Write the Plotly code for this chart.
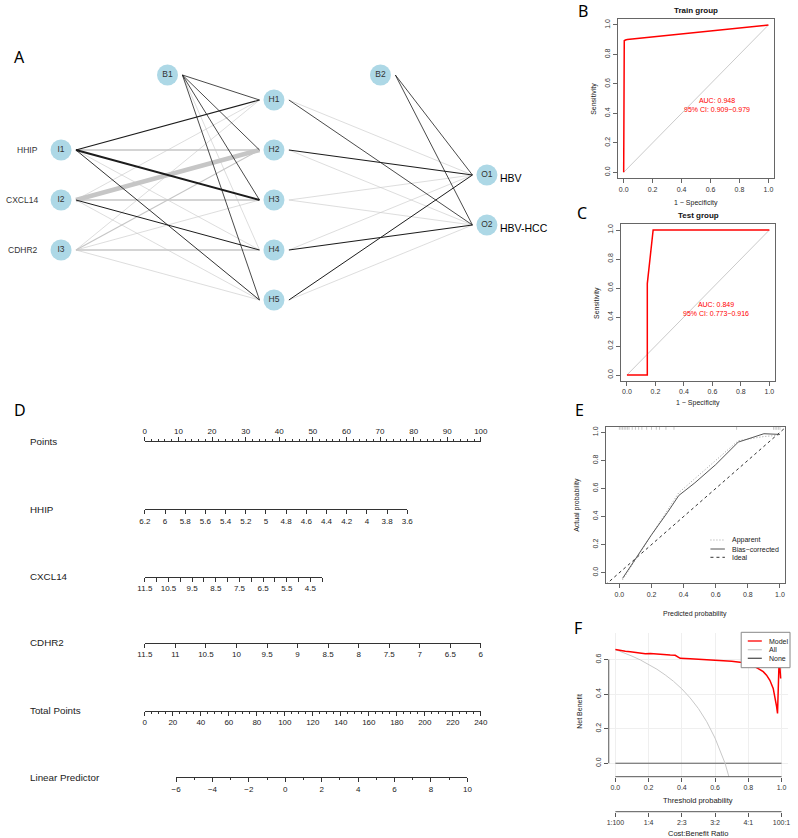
import plotly.graph_objects as go

W, H = 798, 838
FONT = "Liberation Sans, Arial, sans-serif"

# ======================= DATA =======================
# Panel A: neural network (signed connection weights; + drawn black, - drawn grey)
input_names = ["HHIP", "CXCL14", "CDHR2"]
input_nodes = ["I1", "I2", "I3"]
hidden_nodes = ["H1", "H2", "H3", "H4", "H5"]
output_nodes = ["O1", "O2"]
output_names = ["HBV", "HBV-HCC"]
bias_nodes = ["B1", "B2"]
w_I1_H = [1.2, -1.6, 2.0, -0.6, 0.9]
w_I2_H = [-0.6, -4.5, -1.6, 1.0, -0.6]
w_I3_H = [-0.6, -1.2, -0.6, -1.7, -0.6]
w_B1_H = [0.8, 0.8, 0.8, -0.6, 0.8]
w_H_O1 = [-0.6, 1.1, -0.6, -0.6, 1.0]
w_H_O2 = [0.8, -0.6, -0.6, 1.1, -0.6]
w_B2_O = [0.8, 0.8]

# Panel B / C: ROC curves
train_fpr = [0, 0, 0.004, 0.012, 0.025, 1.0]
train_tpr = [0, 0.885, 0.893, 0.898, 0.901, 1.0]
train_auc = ["AUC: 0.948", "95% CI: 0.909\u22120.979"]
test_fpr = [0, 0.143, 0.143, 0.184, 1.0]
test_tpr = [0, 0, 0.63, 1.0, 1.0]
test_auc = ["AUC: 0.849", "95% CI: 0.773\u22120.916"]

# Panel D: nomogram scales
points_ticks = list(range(0, 101, 10))
points_minor = [v for v in range(0, 101, 2) if v % 10]
hhip_ticks = [6.2, 6.0, 5.8, 5.6, 5.4, 5.2, 5.0, 4.8, 4.6, 4.4, 4.2, 4.0, 3.8, 3.6]
hhip_points = [0, 78.1]
cxcl14_ticks = [11.5, 10.5, 9.5, 8.5, 7.5, 6.5, 5.5, 4.5]
cxcl14_minor = [11, 10, 9, 8, 7, 6, 5, 4]
cxcl14_span = [11.5, 4.0]
cxcl14_points = [0, 52.8]
cdhr2_ticks = [11.5, 11, 10.5, 10, 9.5, 9, 8.5, 8, 7.5, 7, 6.5, 6]
cdhr2_points = [0, 100]
total_ticks = list(range(0, 241, 20))
total_minor = [v for v in range(0, 241, 5) if v % 20]
total_points = [0, 100]
lp_ticks = list(range(-6, 11, 2))
lp_minor = list(range(-5, 10, 2))
lp_points = [9.3, 96.0]

# Panel E: calibration
cal_pred = [0.02, 0.1, 0.2, 0.3, 0.37, 0.47, 0.6, 0.74, 0.9, 1.0]
cal_bias = [-0.04, 0.1, 0.27, 0.43, 0.55, 0.64, 0.77, 0.93, 0.99, 0.985]
cal_apparent = [-0.05, 0.09, 0.27, 0.44, 0.57, 0.67, 0.8, 0.94, 0.97, 0.98]
ideal_xy = [-0.2, 1.2]
rug_x = [0.0, 0.01, 0.02, 0.03, 0.04, 0.05, 0.06, 0.08, 0.1, 0.12, 0.14, 0.17,
         0.2, 0.23, 0.25, 0.29, 0.34, 0.73, 0.96, 0.97, 0.98, 0.99, 1.0]

# Panel F: decision curve
thr_model = [0, 0.03, 0.06, 0.09, 0.12, 0.15, 0.18, 0.21, 0.24, 0.27, 0.3, 0.33, 0.36,
             0.39, 0.45, 0.5, 0.55, 0.6, 0.65, 0.7, 0.75, 0.8, 0.83, 0.86, 0.89, 0.91,
             0.93, 0.95, 0.96, 0.97, 0.976, 0.98, 0.985, 0.99, 0.995]
nb_model = [0.658, 0.652, 0.648, 0.645, 0.64, 0.636, 0.634, 0.635, 0.632, 0.633, 0.627,
            0.626, 0.625, 0.607, 0.604, 0.602, 0.6, 0.597, 0.594, 0.59, 0.585, 0.57,
            0.563, 0.548, 0.53, 0.51, 0.48, 0.433, 0.39, 0.33, 0.288, 0.42, 0.577, 0.56, 0.49]
thr_all = [0, 0.05, 0.1, 0.15, 0.2, 0.25, 0.3, 0.35, 0.4, 0.45, 0.5, 0.55, 0.6, 0.63, 0.66, 0.69]
nb_all = [0.658, 0.64, 0.62, 0.598, 0.573, 0.544, 0.511, 0.474, 0.43, 0.378, 0.316,
          0.24, 0.145, 0.077, 0.0, -0.1]
thr_none = [0, 1]
nb_none = [0, 0]
cb_ticks = [0, 0.2, 0.4, 0.6, 0.8, 1.0]
cb_labels = ["1:100", "1:4", "2:3", "3:2", "4:1", "100:1"]


# ======================= HELPERS =======================
def fx(px):
    return px / W


def fy(py):
    return 1 - py / H


def fmt(v):
    s = f"{v:g}"
    return s.replace("-", "\u2212")


fig = go.Figure()
annotations = []
shapes = []


def ann(text, x, y, size=7, color="#222", xanchor="center", angle=0, bold=False,
        xref="paper", yref="paper", family=FONT):
    if xref == "paper":
        x = fx(x)
    if yref == "paper":
        y = fy(y)
    annotations.append(dict(
        text=f"<b>{text}</b>" if bold else text, x=x, y=y, xref=xref, yref=yref,
        xanchor=xanchor, yanchor="middle", showarrow=False, textangle=angle,
        font=dict(size=size, color=color, family=family)))


# ======================= PANEL A =======================
layer_x = {"in": 0.0, "hid": 1.0, "out": 2.0, "b1": 0.5, "b2": 1.5}
hid_y = [k + 1 for k in range(len(hidden_nodes))]
in_off = (len(hidden_nodes) - len(input_nodes)) / 2
out_off = (len(hidden_nodes) - len(output_nodes)) / 2
in_y = [h + in_off for h in hid_y[:len(input_nodes)]]
out_y = [h + out_off for h in hid_y[:len(output_nodes)]]
bias_y = 0.5
gap_start, gap_end = 0.07, 0.068


def edge(x0, y0, x1, y1, w):
    fig.add_trace(go.Scatter(
        x=[x0 + gap_start, x1 - gap_end], y=[y0, y1], mode="lines",
        line=dict(color="#1c1c1c" if w > 0 else "#c6c6c6", width=abs(w)),
        xaxis="x", yaxis="y", hoverinfo="skip", showlegend=False))


all_edges = []
for i, ws in enumerate([w_I1_H, w_I2_H, w_I3_H]):
    for j, w in enumerate(ws):
        all_edges.append((layer_x["in"], in_y[i], layer_x["hid"], hid_y[j], w))
for j, w in enumerate(w_B1_H):
    all_edges.append((layer_x["b1"], bias_y, layer_x["hid"], hid_y[j], w))
for j in range(len(hidden_nodes)):
    all_edges.append((layer_x["hid"], hid_y[j], layer_x["out"], out_y[0], w_H_O1[j]))
    all_edges.append((layer_x["hid"], hid_y[j], layer_x["out"], out_y[1], w_H_O2[j]))
for k, w in enumerate(w_B2_O):
    all_edges.append((layer_x["b2"], bias_y, layer_x["out"], out_y[k], w))
for e in sorted(all_edges, key=lambda e: e[4] > 0):
    edge(*e)

node_x = ([layer_x["in"]] * len(input_nodes) + [layer_x["hid"]] * len(hidden_nodes)
          + [layer_x["out"]] * len(output_nodes) + [layer_x["b1"], layer_x["b2"]])
node_y = in_y + hid_y + out_y + [bias_y, bias_y]
node_t = input_nodes + hidden_nodes + output_nodes + bias_nodes
fig.add_trace(go.Scatter(
    x=node_x, y=node_y, text=node_t, mode="markers+text",
    marker=dict(size=21, color="#ADD8E6", line=dict(width=0)),
    textfont=dict(size=8.5, color="#333", family=FONT), textposition="middle center",
    xaxis="x", yaxis="y", hoverinfo="skip", showlegend=False))
for name, yv in zip(input_names, in_y):
    ann(name, layer_x["in"] - 0.097, yv, size=8.5, color="#333", xanchor="right",
        xref="x", yref="y")
for name, yv in zip(output_names, out_y):
    ann(name, layer_x["out"] + 0.052, yv + 0.06, size=10.5, color="#000", xanchor="left",
        xref="x", yref="y")

# ======================= PANELS B / C =======================
box_axis = dict(showline=True, mirror=True, linecolor="#666", linewidth=1,
                ticks="outside", ticklen=4, tickcolor="#666", tickwidth=1,
                showgrid=False, zeroline=False, tickfont=dict(size=7, color="#333"),
                fixedrange=True)
tick01 = [0, 0.2, 0.4, 0.6, 0.8, 1.0]

for ax, fpr, tpr in [("2", train_fpr, train_tpr), ("3", test_fpr, test_tpr)]:
    fig.add_trace(go.Scatter(x=[0, 1], y=[0, 1], mode="lines",
                             line=dict(color="#bdbdbd", width=0.8),
                             xaxis="x" + ax, yaxis="y" + ax, hoverinfo="skip",
                             showlegend=False))
    fig.add_trace(go.Scatter(x=fpr, y=tpr, mode="lines",
                             line=dict(color="#ff0000", width=1.5),
                             xaxis="x" + ax, yaxis="y" + ax, hoverinfo="skip",
                             showlegend=False))

# ======================= PANEL E =======================
rx, ry = [], []
for v in rug_x:
    rx += [v, v, None]
    ry += [1.018, 1.04, None]
fig.add_trace(go.Scatter(x=rx, y=ry, mode="lines", line=dict(color="#c8c8c8", width=1),
                         xaxis="x4", yaxis="y4", hoverinfo="skip", showlegend=False))
fig.add_trace(go.Scatter(x=ideal_xy, y=ideal_xy, mode="lines",
                         line=dict(color="#333", width=1, dash="3px,3px"),
                         xaxis="x4", yaxis="y4", hoverinfo="skip", showlegend=False))
fig.add_trace(go.Scatter(x=cal_pred, y=cal_apparent, mode="lines",
                         line=dict(color="#a0a0a0", width=1, dash="1px,2px"),
                         xaxis="x4", yaxis="y4", hoverinfo="skip", showlegend=False))
fig.add_trace(go.Scatter(x=cal_pred, y=cal_bias, mode="lines",
                         line=dict(color="#555", width=1),
                         xaxis="x4", yaxis="y4", hoverinfo="skip", showlegend=False))

# ======================= PANEL F =======================
fig.add_trace(go.Scatter(x=thr_none, y=nb_none, mode="lines", line=dict(color="#5a5a5a", width=1),
                         xaxis="x5", yaxis="y5", hoverinfo="skip", showlegend=False))
fig.add_trace(go.Scatter(x=thr_all, y=nb_all, mode="lines", line=dict(color="#c8c8c8", width=1),
                         xaxis="x5", yaxis="y5", hoverinfo="skip", showlegend=False))
fig.add_trace(go.Scatter(x=thr_model, y=nb_model, mode="lines", line=dict(color="#ff0000", width=1.5),
                         xaxis="x5", yaxis="y5", hoverinfo="skip", showlegend=False))
fig.add_trace(go.Scatter(x=[cb_ticks[0], cb_ticks[-1]], y=[0, 0], mode="markers",
                         marker=dict(opacity=0), xaxis="x12", yaxis="y12",
                         hoverinfo="skip", showlegend=False))

# ======================= PANEL D (nomogram) =======================
P0, PPX = 140.3, 3.42  # pixel of 0 points, pixels per point
nomo_rows = [
    ("Points", 441.7, [0, 100], [0, 100], points_ticks, points_minor, "top"),
    ("HHIP", 509.3, hhip_points, [hhip_ticks[0], hhip_ticks[-1]], hhip_ticks, [], "bottom"),
    ("CXCL14", 576.7, cxcl14_points, cxcl14_span, cxcl14_ticks, cxcl14_minor, "bottom"),
    ("CDHR2", 642.7, cdhr2_points, [cdhr2_ticks[0], cdhr2_ticks[-1]], cdhr2_ticks, [], "bottom"),
    ("Total Points", 710.7, total_points, [total_ticks[0], total_ticks[-1]], total_ticks, total_minor, "bottom"),
    ("Linear Predictor", 777.3, lp_points, [lp_ticks[0], lp_ticks[-1]], lp_ticks, lp_minor, "bottom"),
]
layout_axes = {}
for idx, (name, ly, pspan, vspan, major, minor, side) in enumerate(nomo_rows):
    n = str(6 + idx)
    minor_len = 2 if name in ("Points", "Total Points", "Linear Predictor") else 4
    layout_axes["xaxis" + n] = dict(
        domain=[fx(P0 + pspan[0] * PPX), fx(P0 + pspan[1] * PPX)], range=vspan,
        anchor="y" + n, side=side, showline=True, linecolor="#333", linewidth=1,
        ticks="outside", ticklen=4, tickcolor="#333", tickmode="array",
        tickvals=major, ticktext=[fmt(v) for v in major], tickangle=0,
        tickfont=dict(size=8, color="#222"), showgrid=False, zeroline=False,
        fixedrange=True,
        minor=dict(tickmode="array", tickvals=minor, ticks="outside", ticklen=minor_len,
                   tickcolor="#333", showgrid=False))
    if side == "top":
        dom = [fy(ly) - 0.004, fy(ly)]
    else:
        dom = [fy(ly), fy(ly) + 0.004]
    layout_axes["yaxis" + n] = dict(domain=dom, range=[0, 1], visible=False, fixedrange=True)
    fig.add_trace(go.Scatter(x=vspan, y=[0.5, 0.5], mode="markers", marker=dict(opacity=0),
                             xaxis="x" + n, yaxis="y" + n, hoverinfo="skip", showlegend=False))
    ann(name, 21, ly, size=9.8, color="#222", xanchor="left")

# ======================= LAYOUT =======================
layout_axes.update(dict(
    xaxis=dict(domain=[0, fx(560)], range=[-0.2538, 2.330], visible=False, fixedrange=True),
    yaxis=dict(domain=[fy(340), fy(40)], range=[5.8, -0.2], visible=False, fixedrange=True),
    xaxis2=dict(box_axis, domain=[fx(621.8), fx(780.9)], range=[-0.04, 1.04], anchor="y2",
                tickvals=tick01, tickformat=".1f"),
    yaxis2=dict(box_axis, domain=[fy(178.2), fy(19.1)], range=[-0.04, 1.04], anchor="x2",
                tickvals=tick01, tickformat=".1f", tickangle=-90),
    xaxis3=dict(box_axis, domain=[fx(625.2), fx(781.8)], range=[-0.04, 1.04], anchor="y3",
                tickvals=tick01, tickformat=".1f"),
    yaxis3=dict(box_axis, domain=[fy(380.8), fy(224.2)], range=[-0.04, 1.04], anchor="x3",
                tickvals=tick01, tickformat=".1f", tickangle=-90),
    xaxis4=dict(box_axis, domain=[fx(609.3), fx(792)], range=[-0.0857, 1.032], anchor="y4",
                tickvals=tick01, tickformat=".1f"),
    yaxis4=dict(box_axis, domain=[fy(583.3), fy(426.7)], range=[-0.0755, 1.04], anchor="x4",
                tickvals=tick01, tickformat=".1f", tickangle=-90),
    xaxis5=dict(domain=[fx(612.5), fx(795.1)], range=[-0.04, 1.04], anchor="y5",
                showline=False, ticks="outside", ticklen=4, tickcolor="#555",
                tickvals=tick01, tickformat=".1f", tickfont=dict(size=7, color="#333"),
                showgrid=True, gridcolor="#efefef", gridwidth=1, zeroline=False, fixedrange=True),
    yaxis5=dict(domain=[fy(776.7), fy(633.3)], range=[-0.078, 0.752], anchor="x5",
                showline=False, ticks="outside", ticklen=4, tickcolor="#555",
                tickvals=[0, 0.2, 0.4, 0.6], tickformat=".1f", tickangle=-90,
                tickfont=dict(size=7, color="#333"),
                showgrid=True, gridcolor="#efefef", gridwidth=1, zeroline=False, fixedrange=True),
    xaxis12=dict(domain=[fx(612.5), fx(795.1)], range=[-0.04, 1.04], anchor="y12",
                 showline=False, ticks="outside", ticklen=4, tickcolor="#555",
                 tickmode="array", tickvals=cb_ticks, ticktext=cb_labels, tickangle=0,
                 tickfont=dict(size=7, color="#333"), showgrid=False, zeroline=False,
                 fixedrange=True),
    yaxis12=dict(domain=[fy(811.7), fy(811.7) + 0.004], range=[0, 1], visible=False,
                 fixedrange=True),
))

# F axis lines (R style: only between first and last tick)
shapes.append(dict(type="line", xref="x5", yref="y5 domain", x0=0, x1=1, y0=0, y1=0,
                   line=dict(color="#555", width=1)))
shapes.append(dict(type="line", xref="x5 domain", yref="y5", x0=0, x1=0, y0=0, y1=0.6,
                   line=dict(color="#555", width=1)))
shapes.append(dict(type="line", xref="x12", yref="y12 domain", x0=0, x1=1, y0=0, y1=0,
                   line=dict(color="#555", width=1)))

# F legend
shapes.append(dict(type="rect", xref="paper", yref="paper", x0=fx(747.3), x1=fx(797),
                   y0=fy(667.7), y1=fy(632.3), line=dict(color="#888", width=1),
                   fillcolor="white", layer="above"))
for lab, col, yy in [("Model", "#ff0000", 641), ("All", "#cccccc", 649.7), ("None", "#555", 658.3)]:
    shapes.append(dict(type="line", xref="paper", yref="paper", x0=fx(754), x1=fx(768.3),
                       y0=fy(yy), y1=fy(yy), line=dict(color=col, width=1.3), layer="above"))
    ann(lab, 773.3, yy, size=7, color="#222", xanchor="left")

# E legend
for lab, col, dash, yy in [("Apparent", "#a0a0a0", "1px,2px", 540),
                           ("Bias\u2212corrected", "#555", "solid", 549),
                           ("Ideal", "#333", "3px,3px", 557.3)]:
    shapes.append(dict(type="line", xref="paper", yref="paper", x0=fx(716), x1=fx(730.7),
                       y0=fy(yy), y1=fy(yy), line=dict(color=col, width=1, dash=dash)))
    ann(lab, 736, yy, size=7, color="#222", xanchor="left")

# Titles / axis titles
ann("Train group", 701.3, 10.7, size=8, color="#111", bold=True)
ann("1 \u2212 Specificity", 701.3, 202.7, size=7, color="#222")
ann("Sensitivity", 596.7, 98.6, size=7, color="#222", angle=-90)
ann(train_auc[0] + "<br>" + train_auc[1], 723, 104.6, size=7, color="#ff0000")

ann("Test group", 703.5, 215, size=8, color="#111", bold=True)
ann("1 \u2212 Specificity", 703.5, 402.5, size=7, color="#222")
ann("Sensitivity", 600, 302.5, size=7, color="#222", angle=-90)
ann(test_auc[0] + "<br>" + test_auc[1], 721.7, 309, size=7, color="#ff0000")

ann("Predicted probability", 700.7, 614, size=7, color="#222")
ann("Actual probability", 580, 505, size=7, color="#222", angle=-90)

ann("Net Benefit", 583.3, 711.7, size=7, color="#222", angle=-90)
ann("Threshold probability", 703.7, 800.7, size=7.5, color="#222")
ann("Cost:Benefit Ratio", 703.7, 833, size=7.5, color="#222")

# panel letters
for letter, x, y in [("A", 13, 57), ("B", 586.7, 11), ("C", 585, 213), ("D", 13, 410),
                     ("E", 583, 410), ("F", 581.7, 628)]:
    ann(letter, x, y, size=16, color="#000", xanchor="center", family="Noto Sans, sans-serif")

fig.update_layout(
    width=W, height=H, margin=dict(l=0, r=0, t=0, b=0),
    paper_bgcolor="white", plot_bgcolor="rgba(0,0,0,0)",
    showlegend=False, font=dict(family=FONT, color="#222"),
    annotations=annotations, shapes=shapes, **layout_axes)

fig.write_html("out.html", config={"displayModeBar": False, "staticPlot": True})

# remove default page margins / scrollbars so the figure sits at the window origin
with open("out.html", encoding="utf-8") as f:
    html = f.read()
html = html.replace("<head>", "<head><style>html,body{margin:0;padding:0;overflow:hidden;}</style>", 1)
with open("out.html", "w", encoding="utf-8") as f:
    f.write(html)
